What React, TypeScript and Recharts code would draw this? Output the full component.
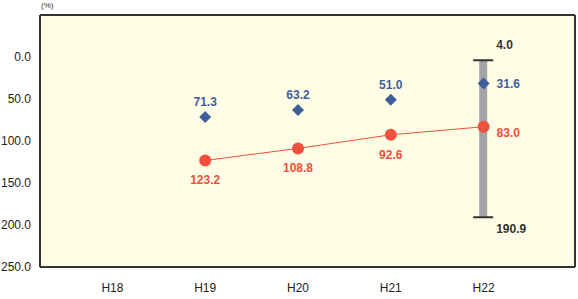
import React from 'react';
import { ComposedChart, Line, Bar, XAxis, YAxis, CartesianGrid, LabelList } from 'recharts';

const categories = ['H18', 'H19', 'H20', 'H21', 'H22'];
const blueValues: (number | null)[] = [null, 71.3, 63.2, 51.0, 31.6];
const redValues: (number | null)[] = [null, 123.2, 108.8, 92.6, 83.0];
const rangeLow: (number | null)[] = [null, null, null, null, 4.0];
const rangeHigh: (number | null)[] = [null, null, null, null, 190.9];
const yTicks = [0, 50, 100, 150, 200, 250];

const data = categories.map((c, i) => ({
  cat: c,
  blue: blueValues[i],
  red: redValues[i],
  range: rangeLow[i] != null && rangeHigh[i] != null ? [rangeLow[i], rangeHigh[i]] : null,
}));

const FONT = '"Liberation Sans", Arial, sans-serif';
const BLUE = '#3f5f9c';
const RED = '#f0503c';

const Diamond = (props: any) => {
  const { cx, cy } = props;
  if (cx == null || cy == null || props.payload?.blue == null) return null;
  const s = 6;
  return <polygon points={`${cx},${cy - s} ${cx + s},${cy} ${cx},${cy + s} ${cx - s},${cy}`} fill={BLUE} />;
};

const RedDot = (props: any) => {
  const { cx, cy } = props;
  if (cx == null || cy == null || props.payload?.red == null) return null;
  return <circle cx={cx} cy={cy} r={6} fill={RED} />;
};

const RangeShape = (props: any) => {
  const { x, y, width, height, payload } = props;
  if (!payload || !payload.range) return null;
  const top = Math.min(y, y + height);
  const h = Math.abs(height);
  const cx = x + width / 2;
  const [lo, hi] = payload.range;
  return (
    <g>
      <rect x={x} y={top} width={width} height={h} fill="#a3a3a3" />
      <line x1={cx - 10} x2={cx + 10} y1={top} y2={top} stroke="#333" strokeWidth={2} />
      <line x1={cx - 10} x2={cx + 10} y1={top + h} y2={top + h} stroke="#333" strokeWidth={2} />
      <text x={cx + 13} y={top - 11} fontSize={12} fontWeight="bold" fill="#333" fontFamily={FONT}>{lo.toFixed(1)}</text>
      <text x={cx + 13} y={top + h + 16} fontSize={12} fontWeight="bold" fill="#333" fontFamily={FONT}>{hi.toFixed(1)}</text>
    </g>
  );
};

const blueLabel = (props: any) => {
  const { x, y, value, index } = props;
  if (value == null) return null;
  const last = index === categories.length - 1;
  return (
    <text x={last ? x + 13 : x} y={last ? y + 4 : y - 11} textAnchor={last ? 'start' : 'middle'} fontSize={12} fontWeight="bold" fill={BLUE} fontFamily={FONT}>
      {Number(value).toFixed(1)}
    </text>
  );
};

const redLabel = (props: any) => {
  const { x, y, value, index } = props;
  if (value == null) return null;
  const last = index === categories.length - 1;
  return (
    <text x={last ? x + 13 : x} y={last ? y + 10 : y + 24} textAnchor={last ? 'start' : 'middle'} fontSize={12} fontWeight="bold" fill={RED} fontFamily={FONT}>
      {Number(value).toFixed(1)}
    </text>
  );
};

export default function App() {
  return (
    <div style={{ position: 'absolute', left: 0, top: 0, width: 578, height: 299, background: '#fff' }}>
      <ComposedChart width={578} height={299} data={data} margin={{ top: 14, right: 2, bottom: 0, left: 0 }}>
        <CartesianGrid vertical={false} horizontal stroke="#e6e2c4" strokeDasharray="5 4" fill="#fffde6" />
        <XAxis dataKey="cat" xAxisId="b" height={32} padding={{ left: 26, right: 45 }} tickLine={false}
          axisLine={{ stroke: '#333', strokeWidth: 2 }} tick={{ fontSize: 12, fill: '#222', fontFamily: FONT }} tickMargin={10} interval={0} />
        <XAxis dataKey="cat" xAxisId="t" orientation="top" height={1} tick={false} tickLine={false}
          axisLine={{ stroke: '#333', strokeWidth: 2 }} padding={{ left: 26, right: 45 }} />
        <YAxis yAxisId="l" width={40} reversed domain={[-50, 250]} ticks={yTicks} allowDataOverflow
          tickFormatter={(v: number) => v.toFixed(1)} tickLine={false} axisLine={{ stroke: '#333', strokeWidth: 2 }}
          tick={{ fontSize: 12, fill: '#222', fontFamily: FONT }} tickMargin={3} interval={0} />
        <YAxis yAxisId="r" orientation="right" width={1} reversed domain={[-50, 250]} tick={false} tickLine={false}
          axisLine={{ stroke: '#333', strokeWidth: 2 }} />
        <Bar xAxisId="b" yAxisId="l" dataKey="range" barSize={8} shape={<RangeShape />} isAnimationActive={false} />
        <Line xAxisId="b" yAxisId="l" dataKey="red" stroke={RED} strokeWidth={1} dot={<RedDot />} activeDot={false} isAnimationActive={false}>
          <LabelList dataKey="red" content={redLabel} />
        </Line>
        <Line xAxisId="b" yAxisId="l" dataKey="blue" stroke="none" dot={<Diamond />} activeDot={false} isAnimationActive={false}>
          <LabelList dataKey="blue" content={blueLabel} />
        </Line>
      </ComposedChart>
      <div style={{ position: 'absolute', left: 41, top: 1, fontSize: 8, color: '#333', fontFamily: FONT }}>(%)</div>
    </div>
  );
}
